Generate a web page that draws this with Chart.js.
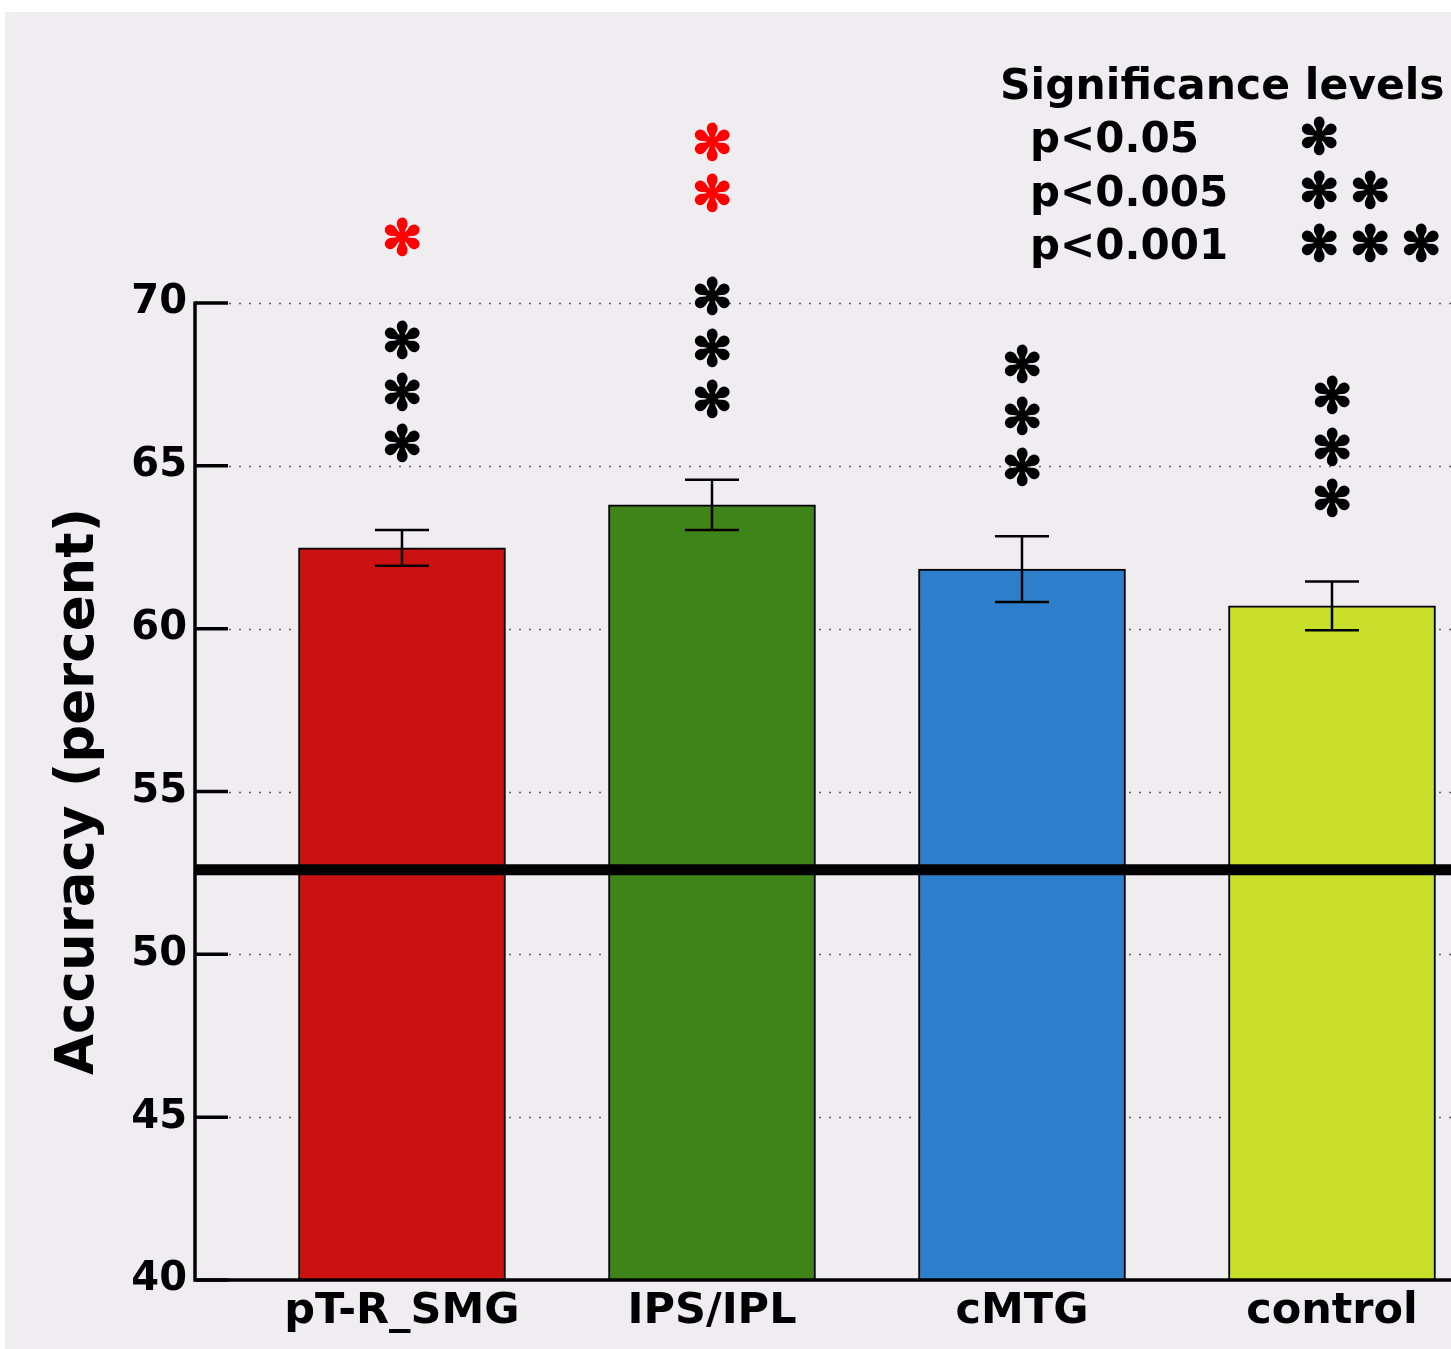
<!DOCTYPE html>
<html>
<head>
<meta charset="utf-8">
<script src="https://cdn.jsdelivr.net/npm/chart.js@4/dist/chart.umd.min.js"></script>
<style>
  html, body { margin: 0; padding: 0; background: #ffffff; }
  #wrap { position: absolute; left: 0; top: 0; width: 1451px; height: 1349px; }
</style>
</head>
<body>
<div id="wrap"><canvas id="c" width="1451" height="1349"></canvas></div>
<script>
// ---- data ----
const categories = ['pT-R_SMG', 'IPS/IPL', 'cMTG', 'control'];
const accuracy = [62.48, 63.80, 61.83, 60.70];
const stdErr = [0.55, 0.77, 1.01, 0.75];
const chanceLevel = 52.6;
const blackStars = [3, 3, 3, 3];
const redStars = [1, 2, 0, 0];
const starBase = [65.70, 67.05, 64.96, 64.01];
const yTicks = [40, 45, 50, 55, 60, 65, 70];
const barColors = ['#cc1111', '#3e8418', '#2d7fcb', '#c8e02a'];
const legendTitle = 'Significance levels';
const legendLabels = ['p<0.05', 'p<0.005', 'p<0.001'];
const legendStars = [1, 2, 3];
const yTitle = 'Accuracy (percent)';

const FONT = 'DejaVu Sans';
const STAR = '\u273B';
const STAR_W = 32;

function drawStar(ctx, cx, cy, color) {
  ctx.save();
  ctx.fillStyle = color;
  ctx.strokeStyle = color;
  ctx.lineWidth = 3;
  ctx.lineJoin = 'round';
  ctx.textAlign = 'left';
  ctx.textBaseline = 'alphabetic';
  ctx.font = 'bold 100px "' + FONT + '"';
  let m = ctx.measureText(STAR);
  const w100 = m.actualBoundingBoxLeft + m.actualBoundingBoxRight;
  const size = 100 * STAR_W / w100;
  ctx.font = 'bold ' + size + 'px "' + FONT + '"';
  m = ctx.measureText(STAR);
  const x0 = cx - (m.actualBoundingBoxRight - m.actualBoundingBoxLeft) / 2;
  const y0 = cy - (m.actualBoundingBoxDescent - m.actualBoundingBoxAscent) / 2;
  ctx.fillText(STAR, x0, y0);
  ctx.strokeText(STAR, x0, y0);
  ctx.restore();
}

const decor = {
  id: 'decor',
  beforeDraw(chart) {
    const c = chart.ctx;
    c.save();
    c.fillStyle = '#efedf0';
    c.fillRect(5, 12, chart.width - 5, chart.height - 12);
    c.restore();
  },
  beforeDatasetsDraw(chart) {
    const { ctx, chartArea: a, scales: { y } } = chart;
    ctx.save();
    ctx.strokeStyle = '#5e5e5e';
    ctx.lineWidth = 1.5;
    ctx.setLineDash([2, 8]);
    yTicks.forEach(v => {
      if (v === y.min) return;
      const py = Math.round(y.getPixelForValue(v)) + 0.5;
      ctx.beginPath();
      ctx.moveTo(a.left + 34, py);
      ctx.lineTo(a.right, py);
      ctx.stroke();
    });
    ctx.restore();
  },
  afterDatasetsDraw(chart) {
    const { ctx, chartArea: a, scales: { x, y } } = chart;
    ctx.save();
    // axes
    ctx.strokeStyle = '#000';
    ctx.lineWidth = 3.5;
    ctx.beginPath();
    ctx.moveTo(a.left, a.top - 1.5);
    ctx.lineTo(a.left, a.bottom);
    ctx.lineTo(a.right, a.bottom);
    ctx.stroke();
    // tick marks (inside)
    yTicks.forEach(v => {
      const py = y.getPixelForValue(v);
      ctx.beginPath();
      ctx.moveTo(a.left, py);
      ctx.lineTo(a.left + 33, py);
      ctx.stroke();
    });
    // chance line
    ctx.lineWidth = 11;
    const cy = y.getPixelForValue(chanceLevel);
    ctx.beginPath();
    ctx.moveTo(a.left, cy);
    ctx.lineTo(a.right, cy);
    ctx.stroke();
    // error bars
    ctx.lineWidth = 2.5;
    categories.forEach((c, i) => {
      const px = x.getPixelForValue(i);
      const t = y.getPixelForValue(accuracy[i] + stdErr[i]);
      const b = y.getPixelForValue(accuracy[i] - stdErr[i]);
      ctx.beginPath();
      ctx.moveTo(px, t); ctx.lineTo(px, b);
      ctx.moveTo(px - 27, t); ctx.lineTo(px + 27, t);
      ctx.moveTo(px - 27, b); ctx.lineTo(px + 27, b);
      ctx.stroke();
    });
    // stars
    const step = 51.5;
    categories.forEach((c, i) => {
      const px = x.getPixelForValue(i);
      const base = y.getPixelForValue(starBase[i]);
      for (let k = 0; k < blackStars[i]; k++) drawStar(ctx, px, base - k * step, '#000');
      for (let k = 0; k < redStars[i]; k++) drawStar(ctx, px, base - (blackStars[i] + 1 + k) * step, '#ff0000');
    });
    // legend
    ctx.fillStyle = '#000';
    ctx.textAlign = 'left';
    ctx.textBaseline = 'alphabetic';
    ctx.font = 'bold 42.5px "' + FONT + '"';
    ctx.fillText(legendTitle, 1000, 99);
    legendLabels.forEach((l, i) => {
      const by = 152 + i * 53.5;
      ctx.font = 'bold 42px "' + FONT + '"';
      ctx.textAlign = 'left';
      ctx.textBaseline = 'alphabetic';
      ctx.fillText(l, 1030, by);
      for (let k = 0; k < legendStars[i]; k++) drawStar(ctx, 1319 + k * 51, by - 16, '#000');
    });
    // y title
    ctx.save();
    ctx.translate(79, (a.top + a.bottom) / 2);
    ctx.rotate(-Math.PI / 2);
    ctx.font = 'bold 53px "' + FONT + '"';
    ctx.textAlign = 'center';
    ctx.textBaseline = 'middle';
    ctx.fillText(yTitle, 0, 0);
    ctx.restore();
    ctx.restore();
  }
};

new Chart(document.getElementById('c').getContext('2d'), {
  type: 'bar',
  data: {
    datasets: [{
      data: categories.map((c, i) => ({ x: i, y: accuracy[i] })),
      backgroundColor: barColors,
      borderColor: '#000',
      borderWidth: 2,
      borderSkipped: 'start',
      barThickness: 207
    }]
  },
  options: {
    responsive: false,
    animation: false,
    devicePixelRatio: 1,
    layout: { padding: { top: 303, left: 0, right: 0, bottom: 0 } },
    plugins: { legend: { display: false }, tooltip: { enabled: false } },
    scales: {
      x: {
        type: 'linear',
        offset: false,
        min: -0.6677,
        max: 3.3839,
        grid: { display: false, drawTicks: false, offset: false },
        border: { display: false },
        afterBuildTicks: s => { s.ticks = categories.map((c, i) => ({ value: i })); },
        afterFit: s => { s.height = 69; },
        ticks: {
          callback: v => categories[v],
          font: { family: FONT, weight: 'bold', size: 43 },
          color: '#000',
          padding: 6,
          maxRotation: 0,
          autoSkip: false
        }
      },
      y: {
        min: 40,
        max: 70,
        grid: { display: false, drawTicks: false },
        border: { display: false },
        afterBuildTicks: s => { s.ticks = yTicks.map(v => ({ value: v })); },
        afterFit: s => { s.width = 195; },
        ticks: {
          font: { family: FONT, weight: 'bold', size: 40 },
          color: '#000',
          padding: 8
        }
      }
    }
  },
  plugins: [decor]
});
</script>
</body>
</html>
